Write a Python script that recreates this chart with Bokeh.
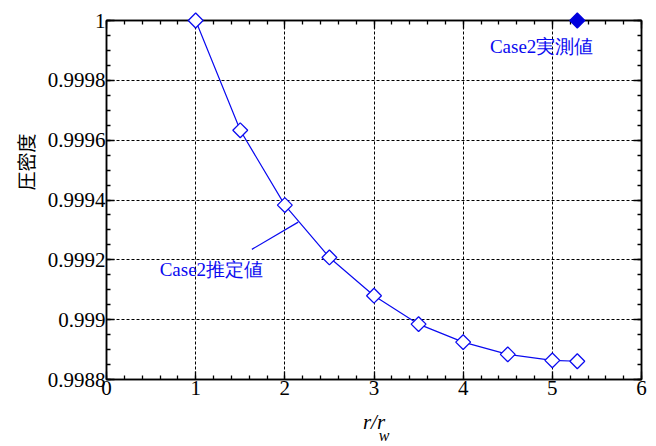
import math
from bokeh.plotting import figure
from bokeh.models import (Range1d, FixedTicker, LinearAxis, CustomJSTickFormatter, Label)
from bokeh.embed import file_html
from bokeh.resources import INLINE

# Estimated consolidation degree along r/rw (Case2)
r_ratio = [1.0, 1.5, 2.0, 2.5, 3.0, 3.5, 4.0, 4.5, 5.0, 5.28]
consolidation = [1.0, 0.999633, 0.999383, 0.999208, 0.999080, 0.998985,
                 0.998925, 0.998884, 0.998864, 0.998861]

# Measured value (Case2)
meas_r = [5.28]
meas_val = [1.0]

x_ticks = [0, 1, 2, 3, 4, 5, 6]
y_ticks = [0.9988, 0.999, 0.9992, 0.9994, 0.9996, 0.9998, 1.0]

BLUE = "#0a0af0"
SERIF = "serif"

p = figure(width=656, height=446, output_backend="svg", toolbar_location=None,
           x_range=Range1d(0, 6), y_range=Range1d(0.9988, 1.0),
           min_border_left=106, min_border_right=15,
           min_border_top=20, min_border_bottom=0)
p.background_fill_color = "white"
p.border_fill_color = "white"
p.outline_line_color = "black"
p.outline_line_width = 1.5

x_minor = [i * 0.2 for i in range(31)]
y_minor = [0.9988 + i * 0.00005 for i in range(25)]
xt = FixedTicker(ticks=x_ticks, minor_ticks=x_minor)
yt = FixedTicker(ticks=y_ticks, minor_ticks=y_minor)
fmt = CustomJSTickFormatter(code="return String(parseFloat(tick.toFixed(4)));")


def style_axis(ax, show_labels):
    ax.axis_line_color = "black"
    ax.axis_line_width = 1.5
    ax.major_tick_in = 8
    ax.major_tick_out = 0
    ax.minor_tick_in = 4
    ax.minor_tick_out = 0
    ax.major_tick_line_color = "black"
    ax.minor_tick_line_color = "black"
    ax.major_tick_line_width = 1.3
    ax.minor_tick_line_width = 1.3
    if show_labels:
        ax.major_label_text_font = SERIF
        ax.major_label_text_font_size = "21px"
        ax.major_label_text_color = "black"
        ax.major_label_standoff = 1
    else:
        ax.major_label_text_font_size = "0px"
        ax.major_label_text_alpha = 0


p.xaxis.ticker = xt
p.yaxis.ticker = yt
p.xaxis.formatter = fmt
p.yaxis.formatter = fmt
style_axis(p.xaxis[0], True)
style_axis(p.yaxis[0], True)

# Axis titles (leading full-width spaces lift the rotated title a little)
p.yaxis.axis_label = "\u3000\u3000\u3000\u3000圧密度"
p.yaxis.axis_label_text_font = "Noto Sans CJK JP"
p.yaxis.axis_label_text_font_style = "normal"
p.yaxis.axis_label_text_font_size = "19px"
p.yaxis.axis_label_text_color = "black"
p.yaxis.axis_label_standoff = 6

p.xaxis.axis_label = "r/r"
p.xaxis.axis_label_text_font = SERIF
p.xaxis.axis_label_text_font_style = "italic"
p.xaxis.axis_label_text_font_size = "21px"
p.xaxis.axis_label_text_color = "black"
p.xaxis.axis_label_standoff = 12

# subscript "w" of r/rw, tucked just below and right of the axis title
sub_ax = LinearAxis(ticker=FixedTicker(ticks=[]), axis_line_color=None,
                    major_tick_in=0, major_tick_out=0, minor_tick_in=0, minor_tick_out=0,
                    major_label_text_font_size="0px", major_label_standoff=0,
                    axis_label="\u00a0\u00a0\u00a0\u00a0\u00a0w",
                    axis_label_text_font=SERIF, axis_label_text_font_style="italic",
                    axis_label_text_font_size="16px", axis_label_text_color="black",
                    axis_label_standoff=-10)
p.add_layout(sub_ax, "below")

top_ax = LinearAxis(ticker=xt, formatter=fmt)
right_ax = LinearAxis(ticker=yt, formatter=fmt)
style_axis(top_ax, False)
style_axis(right_ax, False)
p.add_layout(top_ax, "above")
p.add_layout(right_ax, "right")

p.xgrid[0].ticker = xt
p.ygrid[0].ticker = yt
for g in (p.xgrid[0], p.ygrid[0]):
    g.grid_line_color = "black"
    g.grid_line_dash = "3 2"
    g.grid_line_width = 1

# Curve and markers
p.line(r_ratio, consolidation, line_color=BLUE, line_width=1.2)
est = p.scatter(r_ratio, consolidation, marker="square", size=10.5, angle=math.pi / 4,
                fill_color="white", line_color=BLUE, line_width=1.3)
est.level = "overlay"
meas = p.scatter(meas_r, meas_val, marker="square", size=10.5, angle=math.pi / 4,
                 fill_color="#0000dd", line_color="#0000dd", line_width=1.3)
meas.level = "overlay"

# Leader line for the estimated-value label
p.segment(x0=[1.63], y0=[0.999235], x1=[2.15], y1=[0.999326], line_color=BLUE, line_width=1.2)

p.add_layout(Label(x=0.596, y=0.999167, text="Case2推定値", text_font=SERIF,
                   text_font_size="19px", text_color=BLUE, text_baseline="middle"))
p.add_layout(Label(x=4.30, y=0.999912, text="Case2実測値", text_font=SERIF,
                   text_font_size="19px", text_color=BLUE, text_baseline="middle"))

open("out.html", "w").write(file_html(p, INLINE))
